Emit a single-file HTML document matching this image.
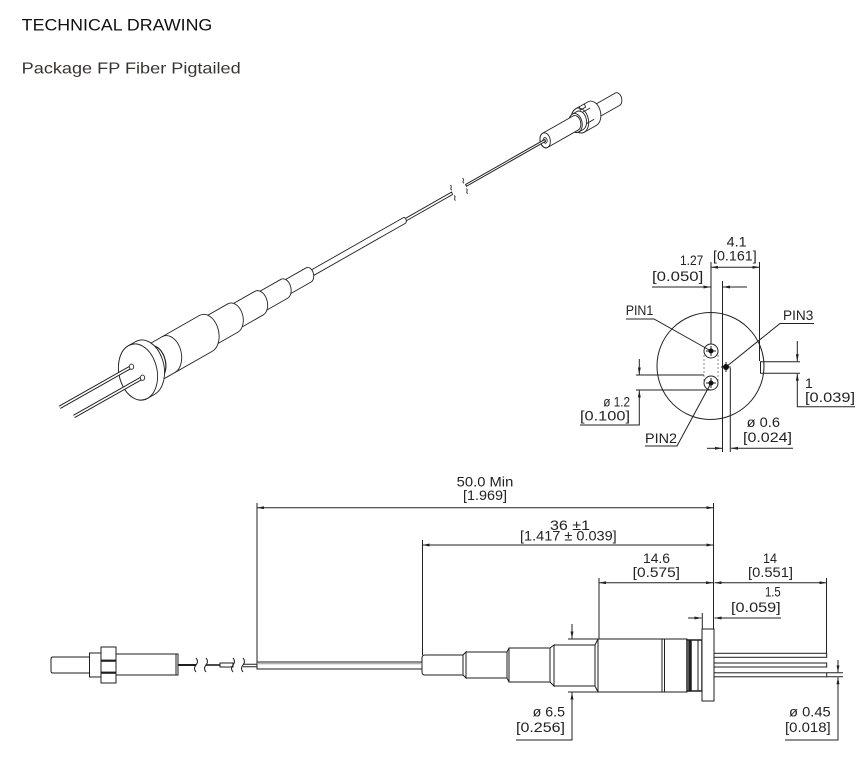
<!DOCTYPE html>
<html><head><meta charset="utf-8"><style>
html,body{margin:0;padding:0;background:#fff;}
svg{display:block;}
text{font-family:"Liberation Sans",sans-serif;font-size:14px;fill:#222;}
.iso *{vector-effect:non-scaling-stroke;}
</style></head><body>
<svg width="863" height="761" viewBox="0 0 863 761" xmlns="http://www.w3.org/2000/svg">
<defs>
<marker id="ar" viewBox="0 0 7 3" refX="7" refY="1.5" markerWidth="7" markerHeight="3" markerUnits="userSpaceOnUse" orient="auto-start-reverse"><path d="M0,0 L7,1.5 L0,3z" fill="#222"/></marker>
</defs>

<!-- Titles -->
<text x="21.7" y="30.7" style="font-size:17px;fill:#111" textLength="190.6" lengthAdjust="spacingAndGlyphs">TECHNICAL DRAWING</text>
<text x="21.7" y="73.3" style="font-size:16px;fill:#3a3430" textLength="219" lengthAdjust="spacingAndGlyphs">Package FP Fiber Pigtailed</text>

<!-- ================= ISOMETRIC VIEW ================= -->
<g class="iso" transform="matrix(0.870,-0.495,0.342,0.94,138,372)" fill="#fff" stroke="#222" stroke-width="0.9">
  <!-- plug -->
  <path d="M522,-6.5 L551,-6.5 A4.55,6.5 0 0 1 551,6.5 L522,6.5 A4.55,6.5 0 0 1 522,-6.5Z"/>
  <!-- nut -->
  <path d="M508,-12.5 L522,-12.5 A8.75,12.5 0 0 1 522,12.5 L508,12.5 A8.75,12.5 0 0 1 508,-12.5Z"/>
  <ellipse cx="508" cy="0" rx="8.75" ry="12.5" fill="none"/>
  <path d="M508,-6 L522,-6 M508,6 L522,6 M512,-12.5 L512,-9 L518,-9 L518,-12.5" fill="none"/>
  <!-- collar -->
  <path d="M503,-9.5 L508,-9.5 A6.65,9.5 0 0 1 508,9.5 L503,9.5 A6.65,9.5 0 0 1 503,-9.5Z"/>
  <ellipse cx="503" cy="0" rx="6.65" ry="9.5" fill="none"/>
  <!-- connector body -->
  <path d="M468,-7.5 L503,-7.5 A5.25,7.5 0 0 1 503,7.5 L468,7.5 A5.25,7.5 0 0 1 468,-7.5Z"/>
  <ellipse cx="468" cy="0" rx="5.25" ry="7.5" fill="none"/>
  <ellipse cx="468" cy="0" rx="2" ry="2.8" fill="none"/>
  <!-- fiber after break -->
  <path d="M377,-1 H468 V1 H377Z" stroke-width="1"/>
  <!-- break marks -->
  <path d="M376,-8 c2.5,1.5 -2.5,3.5 0,5 M376,3 c2.5,1.5 -2.5,3.5 0,5 M362,-8 c2.5,1.5 -2.5,3.5 0,5 M362,3 c2.5,1.5 -2.5,3.5 0,5" fill="none"/>
  <!-- fiber before break -->
  <path d="M306,-1.3 H361 V1.3 H306Z"/>
  <!-- tube -->
  <path d="M196,-3 L306,-3 A2.1,3 0 0 1 306,3 L196,3 Z"/>
  <!-- steps -->
  <path d="M168,-7.5 L196,-7.5 A5.25,7.5 0 0 1 196,7.5 L168,7.5 A5.25,7.5 0 0 1 168,-7.5Z"/>
  <path d="M139,-10 L168,-10 A7,10 0 0 1 168,10 L139,10 A7,10 0 0 1 139,-10Z"/>
  <path d="M109,-12.5 L139,-12.5 A8.75,12.5 0 0 1 139,12.5 L109,12.5 A8.75,12.5 0 0 1 109,-12.5Z"/>
  <path d="M78,-15 L109,-15 A10.5,15 0 0 1 109,15 L78,15 A10.5,15 0 0 1 78,-15Z"/>
  <!-- body -->
  <path d="M18,-19 L78,-19 A13.3,19 0 0 1 78,19 L18,19 A13.3,19 0 0 1 18,-19Z"/>
  <path d="M35,-19 A13.3,19 0 0 1 35,19" fill="none"/>
  <!-- ring -->
  <path d="M8,-17.5 L18,-17.5 A12.25,17.5 0 0 1 18,17.5 L8,17.5 A12.25,17.5 0 0 1 8,-17.5Z" stroke-width="1.2"/>
  <path d="M11,-17.5 A12.25,17.5 0 0 1 11,17.5 M14,-17.5 A12.25,17.5 0 0 1 14,17.5" fill="none" stroke-width="1.2"/>
  <!-- flange -->
  <path d="M0,-28 L8,-28 A19.6,28 0 0 1 8,28 L0,28 A19.6,28 0 0 1 0,-28Z"/>
  <ellipse cx="0" cy="0" rx="19.6" ry="28" fill="#fff"/>
</g>
<!-- iso pins -->
<g stroke-linecap="butt">
  <line x1="131" y1="367" x2="59.7" y2="407.3" stroke="#222" stroke-width="3.6"/>
  <line x1="131" y1="367" x2="59.7" y2="407.3" stroke="#fff" stroke-width="1.6"/>
  <line x1="142" y1="378" x2="74" y2="416.4" stroke="#222" stroke-width="3.6"/>
  <line x1="142" y1="378" x2="74" y2="416.4" stroke="#fff" stroke-width="1.6"/>
  <ellipse cx="131.5" cy="366.7" rx="2.2" ry="2.6" fill="#fff" stroke="#222" stroke-width="0.9"/>
  <ellipse cx="142.5" cy="377.7" rx="2.2" ry="2.6" fill="#fff" stroke="#222" stroke-width="0.9"/>
</g>

<!-- ================= END VIEW (circle) ================= -->
<g fill="none" stroke="#222" stroke-width="1">
  <circle cx="710.5" cy="366" r="53.5"/>
  <!-- notch -->
  <path d="M800,361.7 H760.5 V373.3 H800"/>
  <!-- dashed -->
  <path d="M704,351 V383 M718,351 V383" stroke="#888" stroke-dasharray="2,2"/>
  <!-- pins -->
  <circle cx="711" cy="351" r="7" fill="#fff"/>
  <circle cx="711" cy="383" r="7" fill="#fff"/>
  <path d="M706,351 H716 M711,346 V356 M706,383 H716 M711,378 V388"/>
  <path d="M721,367 H731 M726,362 V372"/>
  <!-- 4.1 -->
  <path d="M711,262 V344 M759.5,262 V361"/>
  <line x1="711" y1="267.3" x2="759.5" y2="267.3" marker-start="url(#ar)" marker-end="url(#ar)"/>
  <!-- 1.27 -->
  <path d="M652,287 H710.5" marker-end="url(#ar)"/>
  <path d="M747,287 H723" marker-end="url(#ar)"/>
  <path d="M722.5,281 V452 M730.3,368 V452"/>
  <!-- 0.6 -->
  <path d="M707,448.3 H722" marker-end="url(#ar)"/>
  <path d="M793,448.3 H731" marker-end="url(#ar)"/>
  <!-- 1.2 -->
  <path d="M636,375 H704 M636,390 H711"/>
  <path d="M639.3,359 V374.5" marker-end="url(#ar)"/>
  <path d="M580,425 H639.3 V390.5" marker-end="url(#ar)"/>
  <!-- 1 -->
  <path d="M797.3,341 V361.2" marker-end="url(#ar)"/>
  <path d="M855,406.7 H797.3 V373.8" marker-end="url(#ar)"/>
  <!-- leaders -->
  <path d="M626,319 H654 L711,351"/>
  <path d="M814,323.5 H780 L726,367"/>
  <path d="M645,446 H677 L711,383"/>
</g>
<circle cx="711" cy="351" r="2.5" fill="#111"/>
<circle cx="711" cy="383" r="2.5" fill="#111"/>
<circle cx="726" cy="367" r="3" fill="#111"/>

<text x="726.7" y="246.7" textLength="20" lengthAdjust="spacingAndGlyphs">4.1</text>
<text x="713" y="260.5" textLength="43.7" lengthAdjust="spacingAndGlyphs">[0.161]</text>
<text x="680" y="265" textLength="23.3" lengthAdjust="spacingAndGlyphs">1.27</text>
<text x="652" y="281" textLength="51.3" lengthAdjust="spacingAndGlyphs">[0.050]</text>
<text x="625.7" y="315" textLength="27.6" lengthAdjust="spacingAndGlyphs">PIN1</text>
<text x="783" y="320" textLength="30.3" lengthAdjust="spacingAndGlyphs">PIN3</text>
<text x="645" y="443" textLength="32" lengthAdjust="spacingAndGlyphs">PIN2</text>
<text x="603.3" y="406.7" textLength="26.7" lengthAdjust="spacingAndGlyphs">ø 1.2</text>
<text x="580" y="420.5" textLength="50" lengthAdjust="spacingAndGlyphs">[0.100]</text>
<text x="746.7" y="427" textLength="33.3" lengthAdjust="spacingAndGlyphs">ø 0.6</text>
<text x="743" y="442" textLength="49" lengthAdjust="spacingAndGlyphs">[0.024]</text>
<text x="805" y="388">1</text>
<text x="805" y="402" textLength="50" lengthAdjust="spacingAndGlyphs">[0.039]</text>

<!-- ================= SIDE VIEW ================= -->
<g fill="#fff" stroke="#1e1e1e" stroke-width="1">
  <!-- left connector -->
  <path d="M53,657 H90 V673 H53 Q51,673 51,671 V659 Q51,657 53,657Z"/>
  <rect x="89.5" y="653" width="12" height="24"/>
  <rect x="101" y="647" width="15" height="36"/>
  <rect x="116" y="654" width="62" height="21"/>
  <line x1="176" y1="654" x2="176" y2="675"/>
  <!-- fiber -->
  <rect x="220" y="663" width="13" height="4"/>
  <!-- tube -->
  <rect x="257" y="662" width="166" height="7"/>
  <!-- seg A -->
  <path d="M425,655 H463 V675 H425 Q422,675 422,672 V658 Q422,655 425,655Z"/>
  <path d="M463,655 L466,652 V678 L463,675Z"/>
  <rect x="466" y="652" width="41" height="26"/>
  <path d="M507,652 L509,648 V682 L507,678Z"/>
  <rect x="509" y="648" width="41" height="34"/>
  <path d="M550,648 L554,645 V686 L550,682Z"/>
  <rect x="554" y="645" width="41" height="41"/>
  <path d="M595,645 L598,639 V692 L595,686Z"/>
  <rect x="598" y="639" width="89" height="53"/>
  <!-- ring -->
  <rect x="687" y="640" width="15" height="51" stroke-width="1.5"/>
  <!-- flange -->
  <rect x="702" y="629" width="12" height="72"/>
  <!-- pins -->
  <rect x="714" y="653.3" width="112.7" height="4"/>
  <rect x="714" y="663" width="112.7" height="4"/>
  <rect x="714" y="672.8" width="112.7" height="4"/>
</g>
<g fill="none" stroke="#1e1e1e">
  <line x1="101" y1="660.7" x2="116" y2="660.7" stroke-width="2.2"/>
  <line x1="101" y1="672.7" x2="116" y2="672.7" stroke-width="2.2"/>
  <line x1="178" y1="665" x2="196" y2="665" stroke-width="2"/>
  <line x1="206" y1="665" x2="220" y2="665" stroke-width="1.6"/>
  <path d="M243,664.2 H257 M243,666.8 H257" stroke-width="1"/>
  <path d="M196,658 q3,3.5 0,7 q-3,3.5 0,7 M206,658 q3,3.5 0,7 q-3,3.5 0,7 M233,658 q3,3.5 0,7 q-3,3.5 0,7 M243,658 q3,3.5 0,7 q-3,3.5 0,7" stroke-width="1"/>
  <line x1="257" y1="663.8" x2="423" y2="663.8" stroke="#999"/>
  <line x1="662" y1="639" x2="662" y2="692" stroke-width="1"/>
  <line x1="664.5" y1="639" x2="664.5" y2="692" stroke-width="1"/>
  <line x1="690" y1="640" x2="690" y2="691" stroke-width="3.5"/>
  <line x1="698" y1="640" x2="698" y2="691" stroke-width="1"/>
</g>

<!-- dimensions -->
<g fill="none" stroke="#222" stroke-width="1">
  <path d="M257,503 V662 M713.5,503 V629 M422.5,540 V655 M599,578 V639 M826.5,578 V653 M702.3,613 V629"/>
  <line x1="257" y1="507.7" x2="713.5" y2="507.7" marker-start="url(#ar)" marker-end="url(#ar)"/>
  <line x1="422.5" y1="545" x2="713.5" y2="545" marker-start="url(#ar)" marker-end="url(#ar)"/>
  <line x1="599" y1="582.7" x2="713" y2="582.7" marker-start="url(#ar)" marker-end="url(#ar)"/>
  <line x1="714.5" y1="582.7" x2="826.5" y2="582.7" marker-start="url(#ar)" marker-end="url(#ar)"/>
  <path d="M688,618 H701.5" marker-end="url(#ar)"/>
  <path d="M781,618 H714.5" marker-end="url(#ar)"/>
  <!-- 6.5 -->
  <path d="M568,639 H598 M568,692 H598"/>
  <path d="M572,624 V638.5" marker-end="url(#ar)"/>
  <path d="M516,740 H572 V692.5" marker-end="url(#ar)"/>
  <!-- 0.45 -->
  <path d="M827,672.8 H843 M827,676.8 H843"/>
  <path d="M838,660 V672.3" marker-end="url(#ar)"/>
  <path d="M785,740 H838 V677.3" marker-end="url(#ar)"/>
</g>

<text x="456.7" y="486.7" textLength="56.6" lengthAdjust="spacingAndGlyphs">50.0 Min</text>
<text x="463" y="500" textLength="44" lengthAdjust="spacingAndGlyphs">[1.969]</text>
<text x="550" y="530" textLength="40" lengthAdjust="spacingAndGlyphs">36 ±1</text>
<text x="520" y="540.5" textLength="96.7" lengthAdjust="spacingAndGlyphs">[1.417 ± 0.039]</text>
<text x="643" y="563" textLength="27" lengthAdjust="spacingAndGlyphs">14.6</text>
<text x="632.7" y="577" textLength="47.3" lengthAdjust="spacingAndGlyphs">[0.575]</text>
<text x="763" y="563" textLength="14" lengthAdjust="spacingAndGlyphs">14</text>
<text x="748" y="577" textLength="45" lengthAdjust="spacingAndGlyphs">[0.551]</text>
<text x="765" y="596.7" textLength="15.7" lengthAdjust="spacingAndGlyphs">1.5</text>
<text x="731" y="612" textLength="49.7" lengthAdjust="spacingAndGlyphs">[0.059]</text>
<text x="532.7" y="716.7" textLength="32.3" lengthAdjust="spacingAndGlyphs">ø 6.5</text>
<text x="516" y="732" textLength="49" lengthAdjust="spacingAndGlyphs">[0.256]</text>
<text x="789" y="716.7" textLength="41.7" lengthAdjust="spacingAndGlyphs">ø 0.45</text>
<text x="785" y="732" textLength="45.7" lengthAdjust="spacingAndGlyphs">[0.018]</text>
</svg>
</body></html>
